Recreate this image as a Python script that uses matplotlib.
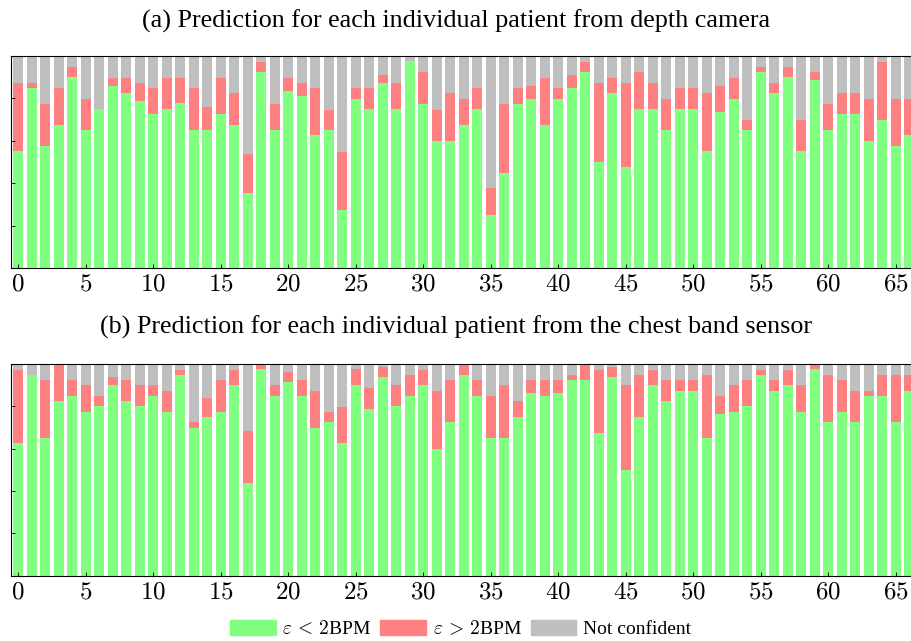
import numpy as np
import matplotlib.pyplot as plt
from matplotlib.patches import Patch

plt.rcParams['font.family'] = 'Liberation Serif'
plt.rcParams['mathtext.fontset'] = 'cm'

patients = np.arange(67)

# fraction of windows per patient: green = error < 2BPM, red = error > 2BPM
camera_ok = [0.553, 0.849, 0.576, 0.675, 0.900, 0.651, 0.749, 0.860, 0.826, 0.788,
             0.725, 0.750, 0.776, 0.651, 0.651, 0.725, 0.675, 0.352, 0.925, 0.651,
             0.837, 0.812, 0.625, 0.651, 0.275, 0.799, 0.750, 0.873, 0.750, 0.975,
             0.774, 0.600, 0.600, 0.675, 0.750, 0.251, 0.449, 0.774, 0.799, 0.675,
             0.799, 0.849, 0.925, 0.501, 0.824, 0.477, 0.750, 0.750, 0.651, 0.750,
             0.750, 0.553, 0.738, 0.799, 0.651, 0.925, 0.824, 0.900, 0.553, 0.887,
             0.651, 0.725, 0.725, 0.600, 0.700, 0.576, 0.625]
camera_top = [0.873, 0.873, 0.774, 0.849, 0.948, 0.799, 0.749, 0.898, 0.898, 0.873,
              0.849, 0.898, 0.898, 0.849, 0.761, 0.898, 0.824, 0.537, 0.973, 0.774,
              0.898, 0.873, 0.849, 0.747, 0.549, 0.849, 0.849, 0.911, 0.873, 0.975,
              0.923, 0.747, 0.824, 0.799, 0.849, 0.375, 0.774, 0.849, 0.860, 0.898,
              0.849, 0.911, 0.973, 0.873, 0.898, 0.873, 0.923, 0.873, 0.799, 0.849,
              0.849, 0.824, 0.860, 0.898, 0.700, 0.948, 0.873, 0.948, 0.700, 0.923,
              0.774, 0.824, 0.824, 0.799, 0.973, 0.799, 0.799]

band_ok = [0.625, 0.950, 0.649, 0.825, 0.849, 0.775, 0.800, 0.899, 0.825, 0.800,
           0.849, 0.775, 0.950, 0.699, 0.750, 0.775, 0.899, 0.438, 0.975, 0.849,
           0.913, 0.849, 0.699, 0.724, 0.625, 0.899, 0.787, 0.937, 0.800, 0.849,
           0.899, 0.600, 0.724, 0.950, 0.849, 0.649, 0.649, 0.750, 0.861, 0.849,
           0.861, 0.924, 0.924, 0.674, 0.937, 0.499, 0.750, 0.899, 0.825, 0.874,
           0.874, 0.649, 0.762, 0.775, 0.800, 0.950, 0.874, 0.899, 0.775, 0.975,
           0.724, 0.775, 0.724, 0.849, 0.849, 0.724, 0.874]
band_top = [0.972, 0.950, 0.924, 1.000, 0.924, 0.899, 0.849, 0.937, 0.924, 0.899,
            0.899, 0.874, 0.973, 0.724, 0.838, 0.924, 0.973, 0.685, 1.000, 0.899,
            0.962, 0.924, 0.874, 0.775, 0.798, 0.975, 0.887, 0.986, 0.899, 0.950,
            0.973, 0.874, 0.924, 1.000, 0.924, 0.849, 0.899, 0.825, 0.924, 0.924,
            0.924, 0.950, 1.000, 0.973, 0.986, 0.899, 0.950, 0.973, 0.924, 0.924,
            0.924, 0.950, 0.849, 0.899, 0.924, 0.973, 0.924, 0.973, 0.899, 1.000,
            0.950, 0.924, 0.874, 0.874, 0.950, 0.950, 0.950]

green = '#80ff80'
red = '#ff8080'
grey = '#bfbfbf'

fig = plt.figure(figsize=(9.12, 6.41), dpi=100)
ax_a = fig.add_axes([0.0117, 0.582, 0.9883, 0.3306])
ax_b = fig.add_axes([0.0117, 0.102, 0.9883, 0.330])


def draw_panel(ax, ok, top):
    ok = np.array(ok)
    top = np.array(top)
    bad = top - ok
    rest = 1.0 - top
    w = 0.74
    ax.bar(patients, ok, width=w, color=green, linewidth=0)
    ax.bar(patients, bad, bottom=ok, width=w, color=red, linewidth=0)
    ax.bar(patients, rest, bottom=top, width=w, color=grey, linewidth=0)
    ax.set_xlim(-0.56, 66.2)
    ax.set_ylim(0, 1)
    ax.set_xticks(np.arange(0, 66, 5))
    ax.set_xticklabels([f'${v}$' for v in range(0, 66, 5)], fontsize=18)
    ax.set_yticks([0.2, 0.4, 0.6, 0.8])
    ax.set_yticklabels([])
    ax.tick_params(axis='both', direction='in', length=3, width=0.6)
    ax.tick_params(axis='x', pad=4)
    ax.spines['right'].set_visible(False)
    for s in ['left', 'top', 'bottom']:
        ax.spines[s].set_linewidth(0.8)


draw_panel(ax_a, camera_ok, camera_top)
draw_panel(ax_b, band_ok, band_top)

fig.text(0.5, 0.966, '(a) Prediction for each individual patient from depth camera',
         ha='center', va='center', fontsize=18.8)
fig.text(0.5, 0.490, '(b) Prediction for each individual patient from the chest band sensor',
         ha='center', va='center', fontsize=18.8)

handles = [Patch(color=green, label=r'$\varepsilon\, <\, 2$BPM'),
           Patch(color=red, label=r'$\varepsilon\, >\, 2$BPM'),
           Patch(color=grey, label='Not confident')]
fig.legend(handles=handles, loc='center', bbox_to_anchor=(0.505, 0.019), ncol=3,
           frameon=False, fontsize=14, handlelength=2.35, handleheight=0.8,
           handletextpad=0.35, columnspacing=0.45, borderpad=0)

fig.savefig('out.png', dpi=100)
